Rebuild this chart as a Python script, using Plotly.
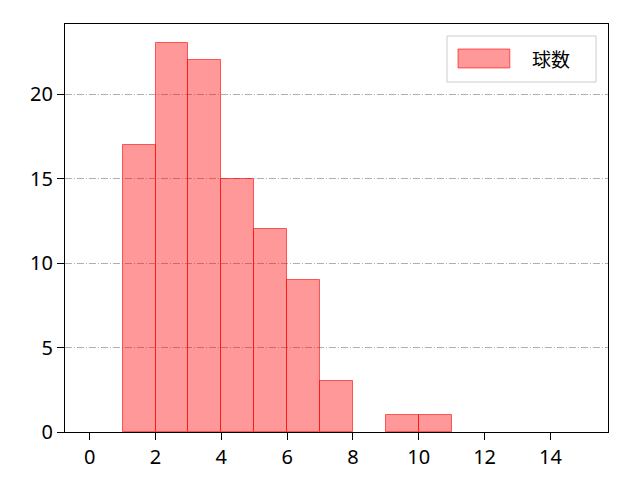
import plotly.graph_objects as go

# histogram bins (left edges) and counts
bin_left = [0, 1, 2, 3, 4, 5, 6, 7, 8, 9, 10, 11, 12, 13, 14]
counts = [0, 17, 23, 22, 15, 12, 9, 3, 0, 1, 1, 0, 0, 0, 0]
series_name = "球数"

x_ticks = [0, 2, 4, 6, 8, 10, 12, 14]
y_ticks = [0, 5, 10, 15, 20]

font_family = "Noto Sans, Noto Sans CJK JP"
fill = 'rgba(255,0,0,0.4)'
edge = 'rgba(255,0,0,0.6)'

# skip empty bins so they don't leave an outline on the baseline
xs = [b + 0.5 for b, c in zip(bin_left, counts) if c > 0]
ys = [c for c in counts if c > 0]

fig = go.Figure()
fig.add_trace(go.Bar(
    x=xs,
    y=ys,
    width=1,
    name=series_name,
    showlegend=False,
    marker=dict(color=fill, line=dict(color=edge, width=1))
))

# legend drawn by hand (matplotlib style box with wide patch)
fig.add_shape(type='rect', xref='paper', yref='paper',
              x0=0.7035, x1=0.978, y0=0.8578, y1=0.9706,
              line=dict(color='#cccccc', width=1), fillcolor='rgba(255,255,255,0.8)')
fig.add_shape(type='rect', xref='paper', yref='paper',
              x0=0.7238, x1=0.8192, y0=0.8922, y1=0.9387,
              line=dict(color=edge, width=1), fillcolor=fill)
fig.add_annotation(text=series_name, xref='paper', yref='paper',
                   x=0.857, y=0.916, xanchor='left', yanchor='middle',
                   showarrow=False, font=dict(family="Noto Sans CJK JP", size=19))

fig.update_layout(
    width=632,
    height=472,
    margin=dict(l=57, r=32, t=16, b=48),
    plot_bgcolor='white',
    paper_bgcolor='white',
    font=dict(family=font_family, size=20, color='black'),
    bargap=0,
    xaxis=dict(
        range=[-0.75, 15.75],
        tickvals=x_ticks,
        ticks='outside', ticklen=7, tickwidth=1.3, tickcolor='black',
        showline=True, linecolor='black', linewidth=1.3, mirror=True,
        showgrid=False, zeroline=False, automargin=False
    ),
    yaxis=dict(
        range=[0, 24.15],
        tickvals=y_ticks,
        ticks='outside', ticklen=7, tickwidth=1.3, tickcolor='black',
        showline=True, linecolor='black', linewidth=1.3, mirror=True,
        showgrid=True, gridcolor='#b0b0b0', gridwidth=1,
        griddash='7px,2px,1px,2px',
        zeroline=False, layer='above traces', automargin=False
    )
)

fig.write_html("out.html")
